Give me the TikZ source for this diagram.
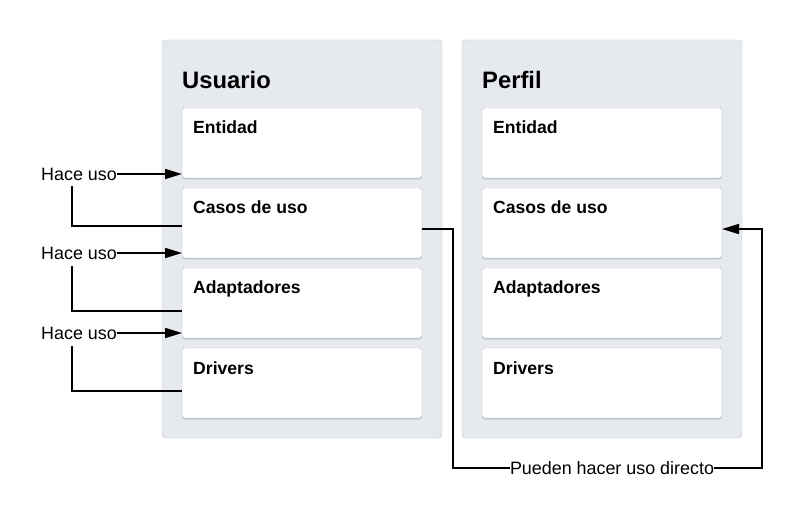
\documentclass[tikz,border=0pt]{standalone}
\usepackage{fontspec}
\setmainfont{Liberation Sans}
\usetikzlibrary{positioning,arrows.meta,shadows}
\definecolor{fondo}{HTML}{E6E9EE}
\definecolor{borde}{HTML}{C4C9D1}

\begin{document}
\begin{tikzpicture}[x=1pt,y=-1pt,
  capa/.style={draw=borde,fill=fondo,rounded corners=3pt,minimum width=280pt,minimum height=398pt,inner sep=0pt},
  caja/.style={draw=black!25,fill=white,rounded corners=3pt,minimum width=240pt,minimum height=70pt,inner sep=0pt,outer sep=0pt,
    drop shadow={shadow xshift=0pt,shadow yshift=-1.5pt,opacity=0.35}},
  titulo/.style={font=\bfseries\fontsize{23.8}{26}\selectfont,anchor=west,inner sep=0pt},
  nombre/.style={font=\bfseries\fontsize{17.6}{20}\selectfont,anchor=base west,inner sep=0pt},
  texto/.style={font=\fontsize{17.9}{20}\selectfont,inner sep=0pt},
  linea/.style={line width=1.6pt},
  flecha/.style={line width=1.6pt,-{Triangle[length=17pt,width=10pt]}}]
\useasboundingbox (0,0) rectangle (803,521);

% contenedores
\node [capa] (usuario) at (302,239) {};
\node [capa] (perfil) at (602,239) {};
\node [titulo] (tu) at (182,80) {Usuario};
\node [titulo] (tp) at (482,80) {Perfil};

% capas de Usuario
\node [caja] (u1) at (302,143) {};
\node [caja,below=10pt of u1] (u2) {};
\node [caja,below=10pt of u2] (u3) {};
\node [caja,below=10pt of u3] (u4) {};
% capas de Perfil
\node [caja] (p1) at (602,143) {};
\node [caja,below=10pt of p1] (p2) {};
\node [caja,below=10pt of p2] (p3) {};
\node [caja,below=10pt of p3] (p4) {};

\node [nombre] at ([xshift=11pt,yshift=-26pt]u1.north west) {Entidad};
\node [nombre] at ([xshift=11pt,yshift=-26pt]u2.north west) {Casos de uso};
\node [nombre] at ([xshift=11pt,yshift=-26pt]u3.north west) {Adaptadores};
\node [nombre] at ([xshift=11pt,yshift=-26pt]u4.north west) {Drivers};
\node [nombre] at ([xshift=11pt,yshift=-26pt]p1.north west) {Entidad};
\node [nombre] at ([xshift=11pt,yshift=-26pt]p2.north west) {Casos de uso};
\node [nombre] at ([xshift=11pt,yshift=-26pt]p3.north west) {Adaptadores};
\node [nombre] at ([xshift=11pt,yshift=-26pt]p4.north west) {Drivers};

% hace uso
\node [texto,anchor=east] (h1) at (117,174) {Hace uso};
\node [texto,anchor=east] (h2) at (117,253) {Hace uso};
\node [texto,anchor=east] (h3) at (117,333) {Hace uso};

\draw [flecha] (h1.east) -- (h1.east -| u1.west);
\draw [flecha] (h2.east) -- (h2.east -| u2.west);
\draw [flecha] (h3.east) -- (h3.east -| u3.west);
\draw [linea] ([yshift=-38pt]u2.north west) -| (72,186);
\draw [linea] ([yshift=-43pt]u3.north west) -| (72,266);
\draw [linea] ([yshift=-43pt]u4.north west) -| (72,346);

% uso directo
\node [texto] (dir) at (612,468) {Pueden hacer uso directo};
\draw [linea] ([yshift=-6pt]u2.east) -| (453,468) -- (dir.west);
\draw [flecha] (dir.east) -| (762,229) -- ([yshift=-6pt]p2.east);
\end{tikzpicture}
\end{document}
